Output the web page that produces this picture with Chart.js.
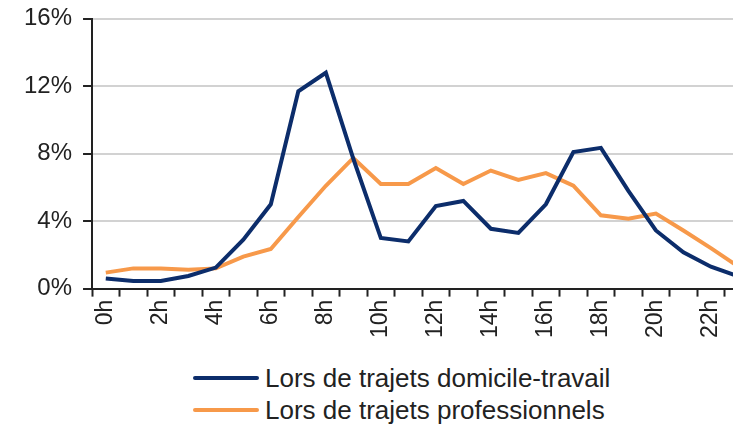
<!DOCTYPE html>
<html>
<head>
<meta charset="utf-8">
<script src="https://cdn.jsdelivr.net/npm/chart.js@4"></script>
<style>
  html, body { margin: 0; padding: 0; background: #fff; overflow: hidden; }
  body { width: 733px; height: 425px; position: relative; }
  #graphique { position: absolute; left: 0; top: 0; }
  #legende { position: absolute; left: 193px; top: 362px; font-family: "Liberation Sans", Arial, sans-serif; font-size: 26px; color: #222; }
  .item { display: flex; align-items: center; height: 32px; }
  .trait { width: 66px; height: 4px; margin-right: 6px; border-radius: 2px; }
</style>
</head>
<body>
<canvas id="graphique" width="769" height="341"></canvas>
<div id="legende"></div>
<script>
var heures = ['0h','1h','2h','3h','4h','5h','6h','7h','8h','9h','10h','11h','12h','13h','14h','15h','16h','17h','18h','19h','20h','21h','22h','23h'];
var domicileTravail = [0.6, 0.45, 0.45, 0.75, 1.25, 2.9, 5.0, 11.7, 12.8, 7.7, 3.0, 2.8, 4.9, 5.2, 3.55, 3.3, 5.0, 8.1, 8.35, 5.8, 3.45, 2.15, 1.3, 0.72];
var professionnels = [0.95, 1.2, 1.2, 1.12, 1.2, 1.9, 2.35, 4.25, 6.1, 7.75, 6.2, 6.2, 7.15, 6.2, 7.0, 6.45, 6.85, 6.1, 4.35, 4.15, 4.45, 3.45, 2.4, 1.3];
var yTicks = [0, 4, 8, 12, 16];
var nomSeries = ['Lors de trajets domicile-travail', 'Lors de trajets professionnels'];
var couleurs = ['#0c2d6b', '#f7994a'];

var policeX = { family: '"Liberation Sans", Arial, sans-serif', size: 23 };
var policeY = { family: '"Liberation Sans", Arial, sans-serif', size: 24, lineHeight: 0.65 };

var ctx = document.getElementById('graphique').getContext('2d');
var graphique = new Chart(ctx, {
    type: 'line',
    data: {
        labels: heures,
        datasets: [
            { label: nomSeries[0], data: domicileTravail, borderColor: couleurs[0], backgroundColor: couleurs[0], borderWidth: 4, pointRadius: 0, tension: 0 },
            { label: nomSeries[1], data: professionnels, borderColor: couleurs[1], backgroundColor: couleurs[1], borderWidth: 4, pointRadius: 0, tension: 0 }
        ]
    },
    options: {
        responsive: false,
        animation: false,
        layout: { padding: { top: 0, left: 13, right: 0, bottom: 0 } },
        plugins: {
            legend: { display: false },
            tooltip: { enabled: false }
        },
        scales: {
            x: {
                offset: true,
                grid: { offset: true, drawOnChartArea: false, drawTicks: true, tickLength: 8, tickColor: '#222', tickWidth: 2 },
                border: { color: '#222', width: 2 },
                ticks: {
                    autoSkip: false,
                    maxRotation: 90,
                    minRotation: 90,
                    padding: 3,
                    color: '#222',
                    font: policeX,
                    callback: function (value, index) {
                        return index % 2 === 0 ? heures[index] : '';
                    }
                }
            },
            y: {
                min: 0,
                max: 16,
                afterBuildTicks: function (axis) {
                    axis.ticks = yTicks.map(function (v) { return { value: v }; });
                },
                grid: { color: '#d2d2d2', lineWidth: 2, tickLength: 9, tickColor: '#222', tickWidth: 2 },
                border: { color: '#222', width: 2 },
                ticks: {
                    padding: 11,
                    color: '#222',
                    font: policeY,
                    callback: function (value) { return value + '%'; }
                }
            }
        }
    }
});

// légende en HTML, alignée à gauche comme sur l'original
var legende = document.getElementById('legende');
graphique.data.datasets.forEach(function (ds) {
    var item = document.createElement('div');
    item.className = 'item';
    var trait = document.createElement('span');
    trait.className = 'trait';
    trait.style.background = ds.borderColor;
    var texte = document.createElement('span');
    texte.textContent = ds.label;
    item.appendChild(trait);
    item.appendChild(texte);
    legende.appendChild(item);
});
</script>
</body>
</html>
